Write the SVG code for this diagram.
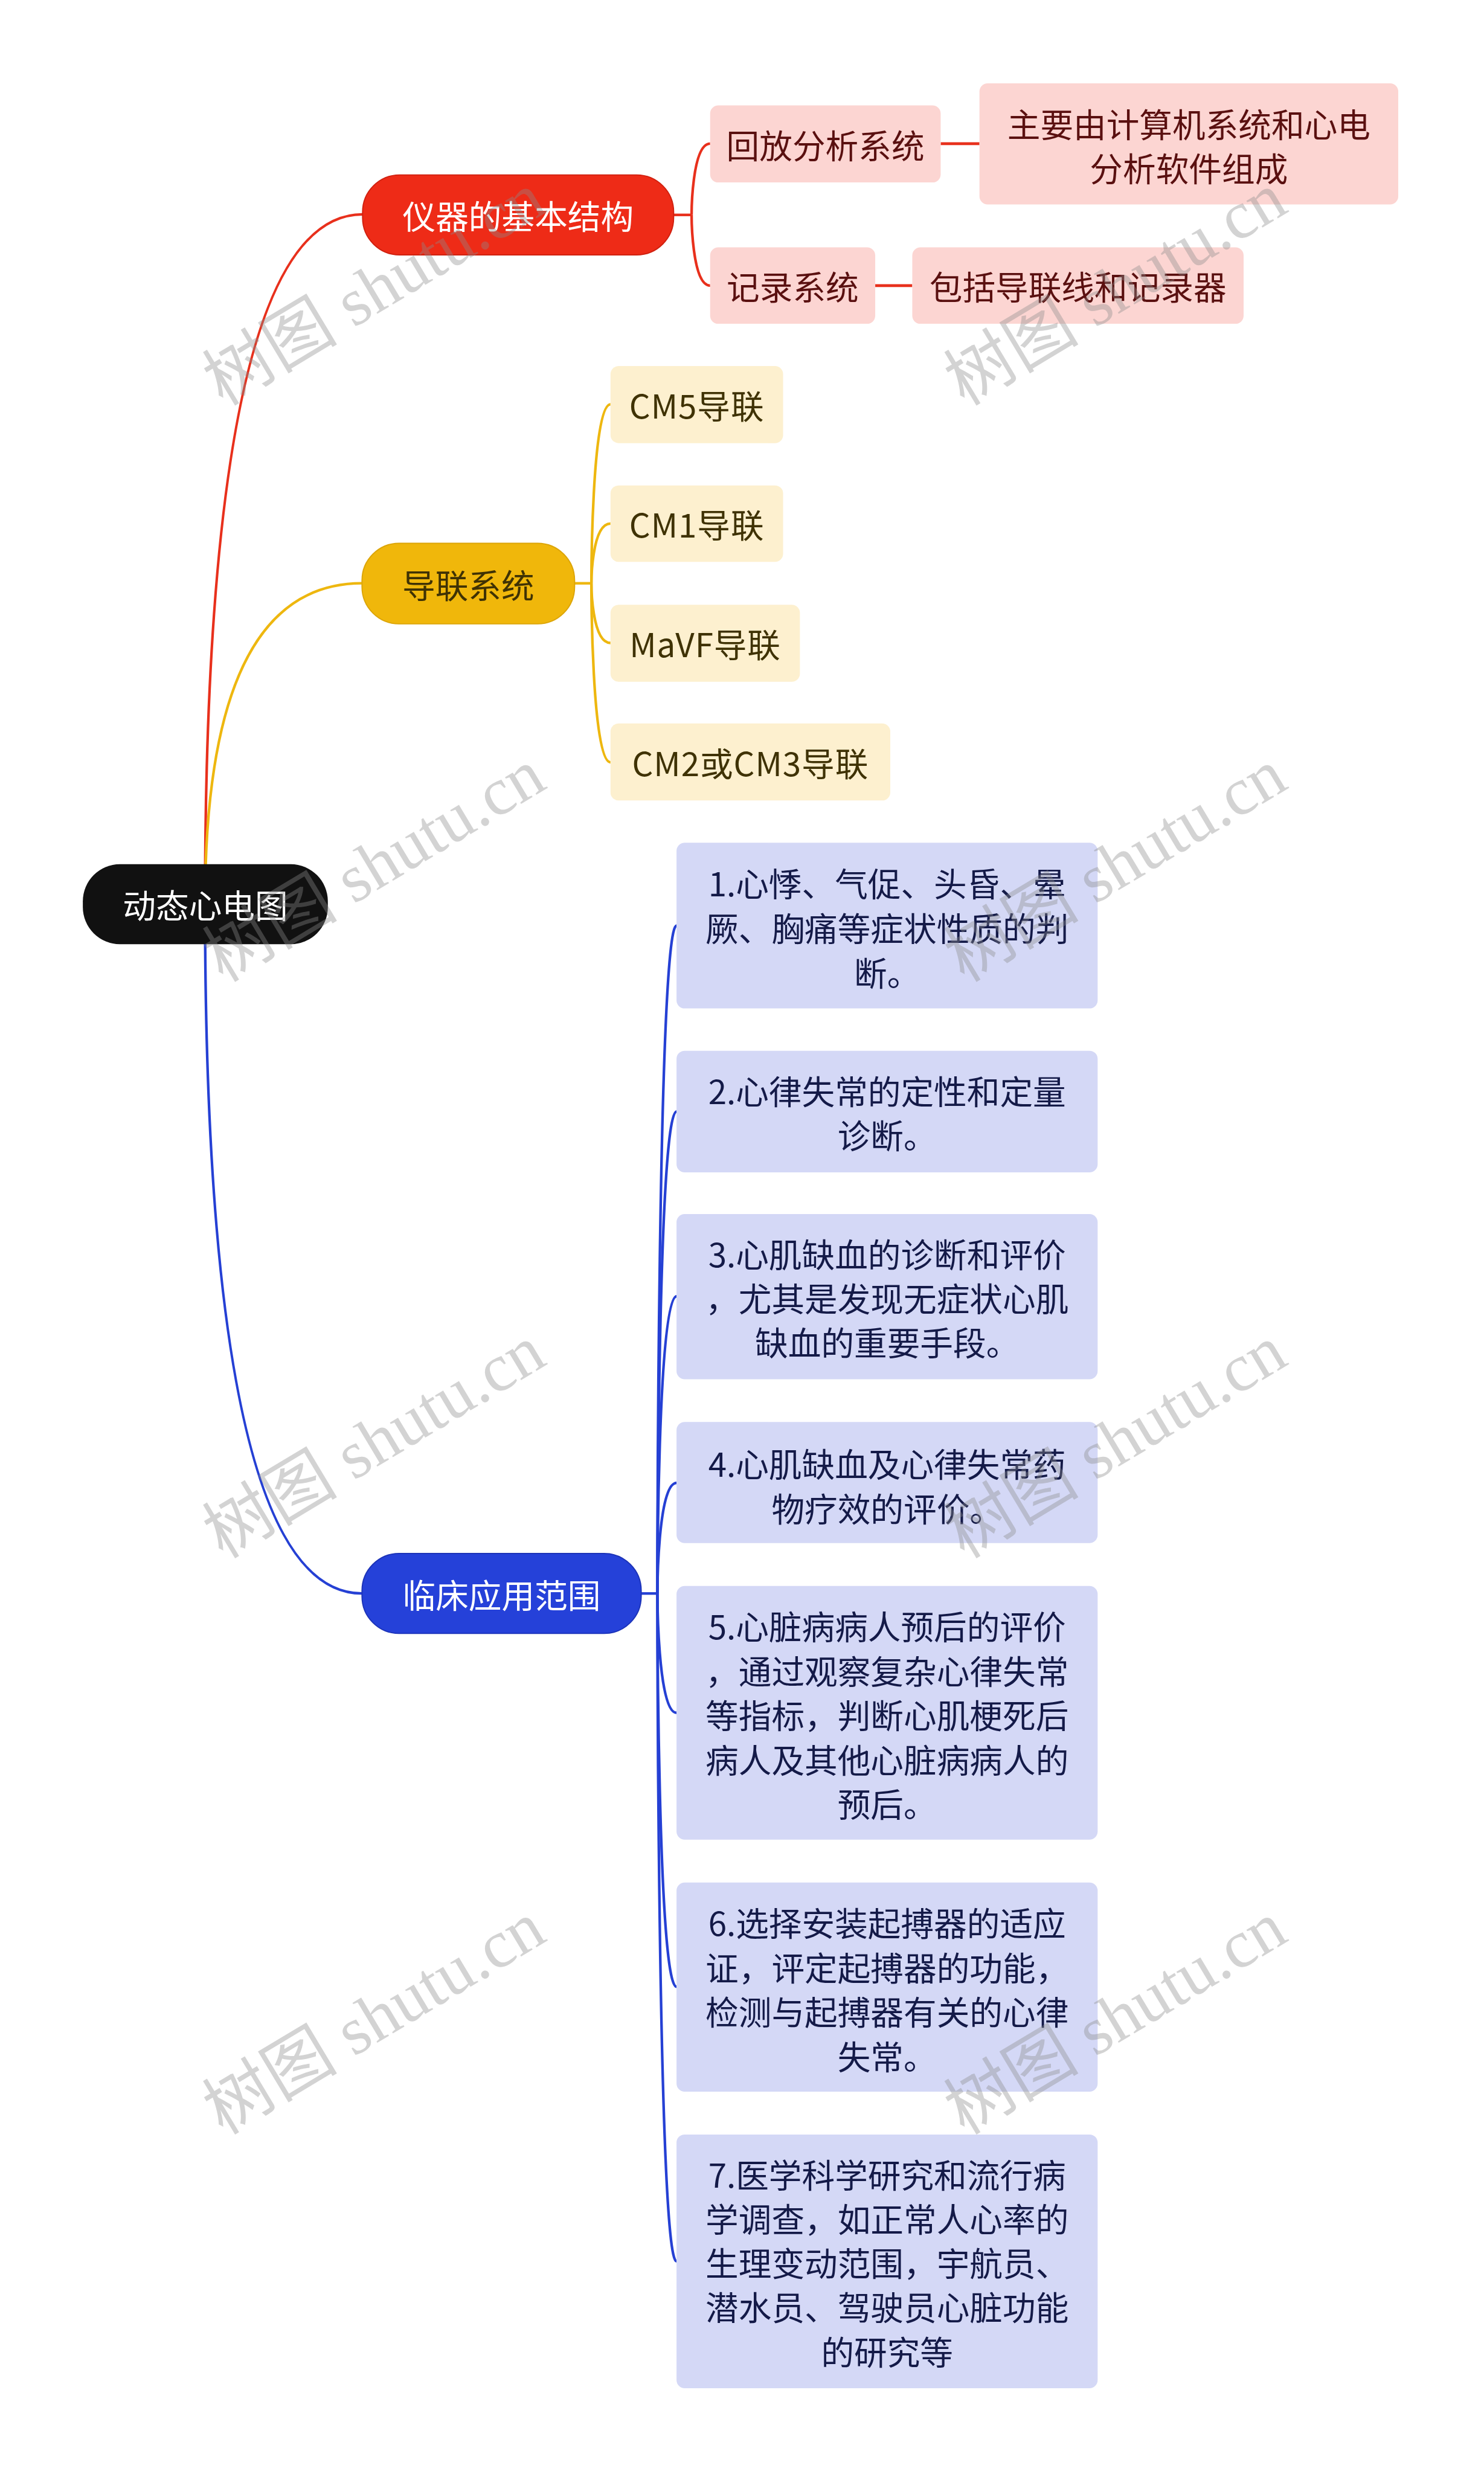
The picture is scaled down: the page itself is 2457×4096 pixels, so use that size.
<svg xmlns="http://www.w3.org/2000/svg" width="2457" height="4096" viewBox="0 0 2457 4096">
<style>
.t{font-family:"Noto Sans CJK SC","Noto Sans",sans-serif;font-size:57px;text-anchor:middle;dominant-baseline:central}
.w{fill:#ffffff}
.tr{fill:#5a1010}
.ty{fill:#3f3204}
.tb{fill:#141a48}
.cr{fill:#fcd5d2}
.cy{fill:#fdf0cf}
.cb{fill:#d4d8f6}
.lr{fill:none;stroke:#e8301c;stroke-width:4.5}
.ly{fill:none;stroke:#eeb70f;stroke-width:4.5}
.lb{fill:none;stroke:#2540d4;stroke-width:4.5}
.wm{font-family:"Liberation Serif","Noto Sans CJK SC",serif;font-size:117px;fill:#8c8c8c;fill-opacity:0.38;text-anchor:middle}
</style>
<rect x="0" y="0" width="2457" height="4096" fill="#ffffff"/>
<g transform="scale(0.959)">
<g id="connectors">
<path class="lr" d="M354 1561 Q354 370 626 370"/>
<path class="ly" d="M354 1561 Q354 1007 625 1007"/>
<path class="lb" d="M354 1561 Q354 2751 625 2751"/>
<path class="lr" d="M1163 371 H1194"/>
<path class="lr" d="M1194 371 C1194 371 1194 248 1226 248"/>
<path class="lr" d="M1194 371 C1194 371 1194 493 1226 493"/>
<path class="lr" d="M1624 248 H1691" style="stroke-width:5"/>
<path class="lr" d="M1511 493 H1575" style="stroke-width:5"/>
<path class="ly" d="M992 1007 H1021"/>
<path class="ly" d="M1021 1007 C1021 1007 1021 698 1054 698"/>
<path class="ly" d="M1021 1007 C1021 1007 1021 904 1054 904"/>
<path class="ly" d="M1021 1007 C1021 1007 1021 1110 1054 1110"/>
<path class="ly" d="M1021 1007 C1021 1007 1021 1316 1054 1316"/>
<path class="lb" d="M1107 2751 H1135"/>
<path class="lb" d="M1135 2751 C1135 2751 1135 1598 1168 1598"/>
<path class="lb" d="M1135 2751 C1135 2751 1135 1919 1168 1919"/>
<path class="lb" d="M1135 2751 C1135 2751 1135 2238 1168 2238"/>
<path class="lb" d="M1135 2751 C1135 2751 1135 2560 1168 2560"/>
<path class="lb" d="M1135 2751 C1135 2751 1135 2957 1168 2957"/>
<path class="lb" d="M1135 2751 C1135 2751 1135 3430 1168 3430"/>
<path class="lb" d="M1135 2751 C1135 2751 1135 3904 1168 3904"/>
</g>
<g id="root">
<rect x="143" y="1492" width="423" height="138" rx="64" fill="#111111"/>
<text class="t w" x="354.5" y="1561">动态心电图</text>
</g>
<g id="n-structure">
<rect x="626" y="302" width="537" height="138" rx="64" fill="#ee2b17" stroke="#d0200f" stroke-width="2"/>
<text class="t w" x="894.5" y="371">仪器的基本结构</text>
</g>
<g id="n-playback">
<rect class="cr" x="1226" y="182" width="398" height="133" rx="14"/>
<text class="t tr" x="1425" y="248.5">回放分析系统</text>
</g>
<g id="n-playback-desc">
<rect class="cr" x="1691" y="144" width="723" height="209" rx="14"/>
<text class="t tr" x="2052.5" y="212">主要由计算机系统和心电</text>
<text class="t tr" x="2052.5" y="288">分析软件组成</text>
</g>
<g id="n-record">
<rect class="cr" x="1226" y="427" width="285" height="132" rx="14"/>
<text class="t tr" x="1368.5" y="493">记录系统</text>
</g>
<g id="n-record-desc">
<rect class="cr" x="1575" y="427" width="572" height="132" rx="14"/>
<text class="t tr" x="1861" y="493">包括导联线和记录器</text>
</g>
<g id="n-leads">
<rect x="625" y="938" width="367" height="139" rx="64" fill="#f0b70b" stroke="#dca508" stroke-width="2"/>
<text class="t ty" x="808.5" y="1007.5">导联系统</text>
</g>
<g id="n-cm5">
<rect class="cy" x="1054" y="632" width="298" height="133" rx="14"/>
<text class="t ty" x="1203" y="698.5" letter-spacing="1">CM5导联</text>
</g>
<g id="n-cm1">
<rect class="cy" x="1054" y="838" width="298" height="132" rx="14"/>
<text class="t ty" x="1203" y="904" letter-spacing="1">CM1导联</text>
</g>
<g id="n-mavf">
<rect class="cy" x="1054" y="1044" width="327" height="133" rx="14"/>
<text class="t ty" x="1217.5" y="1110.5" letter-spacing="1">MaVF导联</text>
</g>
<g id="n-cm23">
<rect class="cy" x="1054" y="1249" width="483" height="133" rx="14"/>
<text class="t ty" x="1295.5" y="1315.5" letter-spacing="1">CM2或CM3导联</text>
</g>
<g id="n-clinical">
<rect x="625" y="2682" width="482" height="138" rx="64" fill="#2541d9" stroke="#1c33b8" stroke-width="2"/>
<text class="t w" x="866" y="2751">临床应用范围</text>
</g>
<g id="n-c1">
<rect class="cb" x="1168" y="1455" width="727" height="286" rx="14"/>
<text class="t tb" x="1531.5" y="1523">1.心悸、气促、头昏、晕</text>
<text class="t tb" x="1531.5" y="1600">厥、胸痛等症状性质的判</text>
<text class="t tb" x="1531.5" y="1677">断。</text>
</g>
<g id="n-c2">
<rect class="cb" x="1168" y="1814" width="727" height="210" rx="14"/>
<text class="t tb" x="1531.5" y="1882">2.心律失常的定性和定量</text>
<text class="t tb" x="1531.5" y="1958">诊断。</text>
</g>
<g id="n-c3">
<rect class="cb" x="1168" y="2096" width="727" height="285" rx="14"/>
<text class="t tb" x="1531.5" y="2163">3.心肌缺血的诊断和评价</text>
<text class="t tb" x="1531.5" y="2239">，尤其是发现无症状心肌</text>
<text class="t tb" x="1531.5" y="2315">缺血的重要手段。</text>
</g>
<g id="n-c4">
<rect class="cb" x="1168" y="2455" width="727" height="209" rx="14"/>
<text class="t tb" x="1531.5" y="2525">4.心肌缺血及心律失常药</text>
<text class="t tb" x="1531.5" y="2602">物疗效的评价。</text>
</g>
<g id="n-c5">
<rect class="cb" x="1168" y="2738" width="727" height="438" rx="14"/>
<text class="t tb" x="1531.5" y="2806">5.心脏病病人预后的评价</text>
<text class="t tb" x="1531.5" y="2883">，通过观察复杂心律失常</text>
<text class="t tb" x="1531.5" y="2959">等指标，判断心肌梗死后</text>
<text class="t tb" x="1531.5" y="3036">病人及其他心脏病病人的</text>
<text class="t tb" x="1531.5" y="3112">预后。</text>
</g>
<g id="n-c6">
<rect class="cb" x="1168" y="3250" width="727" height="361" rx="14"/>
<text class="t tb" x="1531.5" y="3318">6.选择安装起搏器的适应</text>
<text class="t tb" x="1531.5" y="3395">证，评定起搏器的功能，</text>
<text class="t tb" x="1531.5" y="3471">检测与起搏器有关的心律</text>
<text class="t tb" x="1531.5" y="3548">失常。</text>
</g>
<g id="n-c7">
<rect class="cb" x="1168" y="3685" width="727" height="438" rx="14"/>
<text class="t tb" x="1531.5" y="3752">7.医学科学研究和流行病</text>
<text class="t tb" x="1531.5" y="3828">学调查，如正常人心率的</text>
<text class="t tb" x="1531.5" y="3905">生理变动范围，宇航员、</text>
<text class="t tb" x="1531.5" y="3981">潜水员、驾驶员心脏功能</text>
<text class="t tb" x="1531.5" y="4058">的研究等</text>
</g>
<g id="watermarks">
<text class="wm" transform="translate(666 533) rotate(-31)">树图 shutu.cn</text>
<text class="wm" transform="translate(1946 533) rotate(-31)">树图 shutu.cn</text>
<text class="wm" transform="translate(666 1528) rotate(-31)">树图 shutu.cn</text>
<text class="wm" transform="translate(1946 1528) rotate(-31)">树图 shutu.cn</text>
<text class="wm" transform="translate(666 2523) rotate(-31)">树图 shutu.cn</text>
<text class="wm" transform="translate(1946 2523) rotate(-31)">树图 shutu.cn</text>
<text class="wm" transform="translate(666 3518) rotate(-31)">树图 shutu.cn</text>
<text class="wm" transform="translate(1946 3518) rotate(-31)">树图 shutu.cn</text>
</g>
</g>
</svg>
